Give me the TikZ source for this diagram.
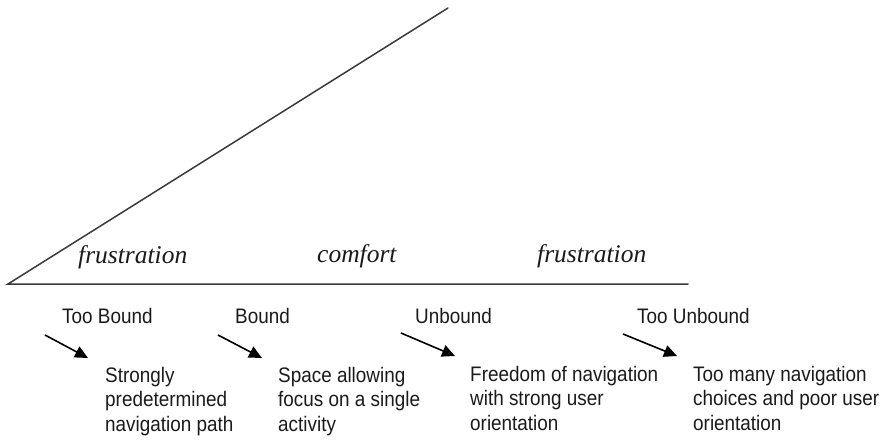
\documentclass[tikz,border=0pt]{standalone}
\usepackage{fontspec}
\setmainfont{Liberation Serif}
\newfontfamily\labfont[FakeStretch=0.9]{Liberation Sans}
\usetikzlibrary{arrows.meta}
\definecolor{inkline}{HTML}{3A3A3A}
\definecolor{inktext}{HTML}{1A1A1A}
\begin{document}
\begin{tikzpicture}[x=1pt,y=-1pt,
  axis/.style={draw=inkline,line width=1.5pt},
  zone/.style={inner sep=0pt,anchor=base west,text=inktext,
    font=\itshape\fontsize{25.5}{30}\selectfont},
  level/.style={inner sep=0pt,anchor=base west,text=inktext,
    font=\labfont\fontsize{21}{24.5}\selectfont},
  % anchored at the baseline of the last of three lines
  effect/.style={inner sep=0pt,anchor=base west,align=left,text=inktext,
    font=\labfont\fontsize{21}{24.5}\selectfont},
  pointer/.style={draw=black,line width=1.6pt,
    -{Triangle[length=13pt,width=12pt]}}]
\useasboundingbox (0,0) rectangle (885,439);

% the wedge: rising diagonal and the base line
\coordinate (origin) at (8,284);
\coordinate (apex) at (448,8);
\coordinate (baseend) at (688,284);
\draw[axis,line cap=round] (apex) -- (origin) -- (baseend);

% zones above the base line
\node[zone] (frus1) at (78,263) {frustration};
\node[zone] (comf) at (317,262) {comfort};
\node[zone] (frus2) at (537,262) {frustration};

% levels of boundedness
\node[level] (tb) at (62,323) {Too Bound};
\node[level] (b) at (235,323) {Bound};
\node[level] (ub) at (415,323) {Unbound};
\node[level] (tub) at (637,323) {Too Unbound};

% what each level means
\node[effect] (e1) at (105,431) {Strongly\\predetermined\\navigation path};
\node[effect] (e2) at (278,431) {Space allowing\\focus on a single\\activity};
\node[effect] (e3) at (470,430) {Freedom of navigation\\with strong user\\orientation};
\node[effect] (e4) at (693,430) {Too many navigation\\choices and poor user\\orientation};

% pointers from each level to its meaning
\coordinate (s1) at (45,335);  \coordinate (t1) at (88,358);
\coordinate (s2) at (218,335); \coordinate (t2) at (262,358);
\coordinate (s3) at (401,333); \coordinate (t3) at (455,356);
\coordinate (s4) at (623,334); \coordinate (t4) at (677,356);
\draw[pointer] (s1) -- (t1);
\draw[pointer] (s2) -- (t2);
\draw[pointer] (s3) -- (t3);
\draw[pointer] (s4) -- (t4);
\end{tikzpicture}
\end{document}
